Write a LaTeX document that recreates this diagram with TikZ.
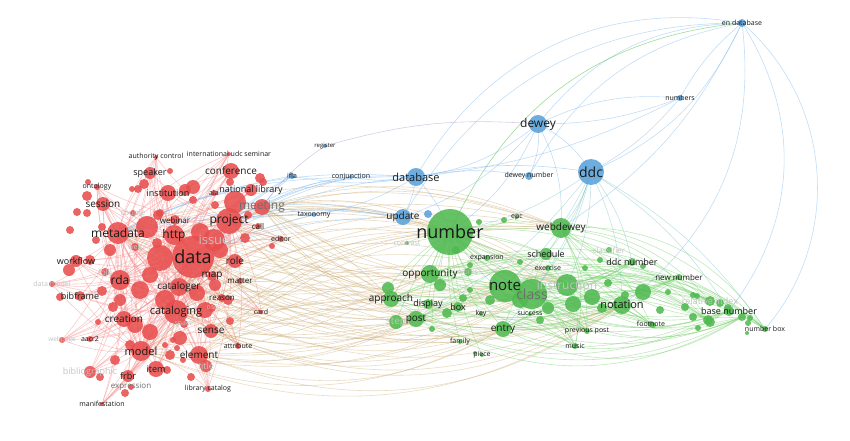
\documentclass[tikz,border=0pt]{standalone}
\usepackage{fontspec}
\setmainfont{Open Sans}
\definecolor{redcol}{RGB}{232,78,78}
\definecolor{greencol}{RGB}{80,185,80}
\definecolor{bluecol}{RGB}{90,162,218}
\definecolor{rededge}{RGB}{245,135,135}
\definecolor{greenedge}{RGB}{115,205,105}
\definecolor{blueedge}{RGB}{120,180,235}
\definecolor{mixedge}{RGB}{200,165,105}
\definecolor{tealedge}{RGB}{120,195,195}
\definecolor{purpedge}{RGB}{170,140,200}
\definecolor{labcol}{RGB}{25,25,25}
\definecolor{midcol}{RGB}{110,110,110}
\definecolor{fadecol}{RGB}{195,195,195}
\pgfdeclarelayer{edges}
\pgfsetlayers{edges,main}
\tikzset{
  vnode/.style={circle, inner sep=0pt, fill opacity=0.88},
  rednode/.style={vnode, fill=redcol},
  greennode/.style={vnode, fill=greencol},
  bluenode/.style={vnode, fill=bluecol},
  lab/.style={inner sep=0pt, text=labcol},
  edge/.style={line width=0.6pt, draw opacity=0.45},
  redline/.style={edge, draw=rededge},
  greenline/.style={edge, draw=greenedge},
  blueline/.style={edge, draw=blueedge},
  mixline/.style={edge, draw=mixedge, draw opacity=0.4},
  tealline/.style={edge, draw=tealedge},
}
\begin{document}
\begin{tikzpicture}[x=1pt, y=-1pt]
    \useasboundingbox (0,0) rectangle (850,441);

    % Red cluster
    \foreach \nm/\x/\y/\rad in {data/193/257/21, metadata/118/233/11, http/174/235/10,
        project/229/221/13, issue/214/240/11, conference/231/171/8, natlib/251/190/6,
        meeting/262/207/8, call/258/226/3, editor/281/239/3, ala/214/193/3, role/235/261/7,
        map/212/276/5, matter/240/281/3, rda/120/280/10, cataloger/179/287/9, reason/222/298/4,
        cataloging/176/312/12, card/261/312/2, sense/211/331/7, creation/124/319/8,
        model/141/351/10, element/199/355/9, attribute/238/346/3, item/156/369/8,
        frbr/128/376/6, expression/131/387/3, manifestation/102/404/2, libcat/208/389/3,
        aacr2/90/339/3, bibframe/80/296/5, workflow/76/261/6, session/103/204/7,
        ontology/97/187/3, speaker/150/173/6, institution/168/193/8, webinar/175/220/5,
        authctrl/156/157/2, udcsem/229/154/2, couple/133/213/3, folk/105/272/4,
        datamodel/52/284/3, webpage/62/340/3, bibliographic/90/372/6, title/206/366/6,
        space/184/324/4, osc/212/308/4, web/135/247/4}
        \node[rednode, minimum size=\rad*2pt] (\nm) at (\x,\y) {};
    \foreach \x/\y/\rad [count=\i] in {147/227/11, 160/258/13, 69/270/6, 135/325/8,
        197/293/8, 235/202/11, 193/187/7, 185/190/6, 193/200/4, 160/213/4, 230/182/4,
        260/178/5, 263/182/4, 170/171/3, 87/196/5, 88/182/3, 77/212/4, 87/213/4, 132/189/3,
        138/189/4, 144/184/5, 102/227/4, 158/215/5, 157/243/5, 60/297/4, 102/291/5,
        113/307/5, 98/322/3, 100/377/4, 125/393/4, 165/345/3, 173/340/3, 177/348/3,
        183/360/3, 167/370/4, 191/377/4, 230/321/4, 248/215/4, 272/246/3, 215/205/4,
        140/290/9, 165/300/10, 205/310/8, 150/332/8, 180/338/7, 220/250/8, 200/232/9,
        120/300/6, 110/250/6, 90/260/5, 150/275/8, 215/285/6, 245/238/5, 130/345/5,
        115/360/5, 170/355/5, 96/240/4, 228/300/5, 70/230/4}
        \node[rednode, minimum size=\rad*2pt] (r\i) at (\x,\y) {};

    % Green cluster
    \foreach \nm/\x/\y/\rad in {number/450/232/23, note/505/286/16, class/532/294/15,
        instruction/567/285/11, webdewey/561/228/10, schedule/546/254/6, exercise/548/268/3,
        ddcnumber/632/262/4, classifier/609/250/3, newnumber/679/277/3, notation/622/305/9,
        footnote/651/324/3, prevpost/587/331/3, music/575/346/3, basenumber/729/311/5,
        relindex/710/301/5, numberbox/765/329/3, opportunity/430/274/9, works/468/272/4,
        expansion/487/258/3, epc/517/217/2, approach/391/299/8, display/428/304/5,
        box/458/307/5, key/481/314/2, success/530/314/2, post/416/319/8, step/396/322/7,
        entry/503/329/8, family/460/342/2, piece/482/355/2, contrast/407/243/2}
        \node[greennode, minimum size=\rad*2pt] (\nm) at (\x,\y) {};
    \foreach \x/\y/\rad [count=\i] in {479/222/3, 504/220/3, 440/285/6, 463/298/4,
        447/313/5, 388/288/6, 432/329/3, 475/353/2, 592/297/8, 573/304/8, 602/308/5,
        643/292/8, 668/292/3, 608/283/4, 625/295/4, 643/266/3, 653/325/3, 685/307/4,
        693/295/3, 720/303/4, 728/308/4, 710/322/5, 698/328/3, 742/317/4, 750/318/3,
        748/323/3, 747/333/2, 697/296/3, 693/317/4, 708/320/5, 520/300/8, 548/308/6,
        490/300/5, 456/250/4, 470/265/3, 520/262/3, 585/268/3, 600/260/3, 660/310/4,
        470/290/3, 540/320/4}
        \node[greennode, minimum size=\rad*2pt] (g\i) at (\x,\y) {};

    % Blue cluster
    \foreach \nm/\x/\y/\rad in {endb/742/23/4, numbers/680/98/3, dewey/538/124/9,
        ddc/591/172/13, deweynum/529/176/4, database/416/177/9, update/403/217/8,
        ifla/292/176/3, conjunction/351/177/2, register/325/146/2, taxonomy/314/215/2,
        b1/428/214/4}
        \node[bluenode, minimum size=\rad*2pt] (\nm) at (\x,\y) {};

    % Labels
    \foreach \nm/\txt/\sz in {data/data/18, metadata/metadata/12, http/http/12,
        project/project/12, conference/conference/10, natlib/national library/9,
        call/call/8, editor/editor/7, ala/ala/7, role/role/10, map/map/10, matter/matter/8,
        rda/rda/12, cataloger/cataloger/10, reason/reason/8, cataloging/cataloging/11,
        card/card/7, sense/sense/10, creation/creation/10, model/model/11,
        element/element/10, attribute/attribute/7, item/item/9, frbr/frbr/9,
        manifestation/manifestation/7, libcat/library catalog/7, aacr2/aacr2/7,
        bibframe/bibframe/9, workflow/workflow/9, session/session/10, ontology/ontology/7,
        speaker/speaker/9, institution/institution/9, webinar/webinar/8,
        authctrl/authority control/7, udcsem/international udc seminar/7,
        number/number/18, note/note/15, webdewey/webdewey/10, schedule/schedule/9,
        exercise/exercise/7, ddcnumber/ddc number/9, newnumber/new number/8,
        notation/notation/11, footnote/footnote/7, prevpost/previous post/7, music/music/7,
        basenumber/base number/9, numberbox/number box/7, opportunity/opportunity/10,
        expansion/expansion/7, epc/epc/7, approach/approach/10, display/display/9,
        box/box/9, key/key/7, success/success/7, post/post/10, entry/entry/10,
        family/family/7, piece/piece/7, endb/en database/7, numbers/numbers/7,
        dewey/dewey/12, ddc/ddc/14, deweynum/dewey number/7, database/database/11,
        update/update/10, ifla/ifla/7, conjunction/conjunction/7, register/register/6,
        taxonomy/taxonomy/7}
        \node[lab, font=\fontsize{\sz}{\sz}\selectfont] at (\nm) {\txt};
    \foreach \nm/\txt/\sz in {meeting/meeting/12, class/class/14, expression/expression/8}
        \node[lab, text=midcol, font=\fontsize{\sz}{\sz}\selectfont] at (\nm) {\txt};
    \foreach \nm/\txt/\sz in {issue/issue/13, couple/couple/8, folk/folk/8,
        datamodel/data model/7, webpage/webpage/6.5, bibliographic/bibliographic/9,
        title/title/9, space/space/7, osc/osc/7, web/web/7, instruction/instruction/12,
        classifier/classifier/8, relindex/relative index/9, works/works/7, step/step/10,
        contrast/contrast/7}
        \node[lab, text=fadecol, font=\fontsize{\sz}{\sz}\selectfont] at (\nm) {\txt};

    \begin{pgfonlayer}{edges}
    % Links inside the red cluster
    \foreach \a in {data,metadata,cataloging,project,rda,model,http,cataloger}
        \foreach \b in {session,workflow,bibframe,aacr2,manifestation,frbr,item,element,
            creation,sense,attribute,libcat,role,map,reason,card,editor,call,meeting,
            natlib,conference,speaker,institution,ontology,authctrl,udcsem,bibliographic,
            webpage,datamodel,data,metadata,cataloging}
            \draw[redline] (\a.center) to[bend left=12] (\b.center);

    % Links red to green
    \foreach \a in {data,cataloging,project,metadata,cataloger,element,http,meeting,sense,model}
        \foreach \b/\bd in {number/18,note/-14,class/-20,approach/10,opportunity/-8,
            post/-18,entry/-25,notation/-28,webdewey/20,instruction/22}
            \draw[mixline] (\a.center) to[bend left=\bd] (\b.center);
    \foreach \a in {data,project,metadata,meeting}
        \foreach \b/\bd in {database/15,update/10,ifla/8,taxonomy/5,conjunction/12}
            \draw[blueline] (\a.center) to[bend left=\bd] (\b.center);
    \draw[edge, draw=purpedge] (meeting.center) to[bend left=10] (register.center);
    \draw[edge, draw=purpedge] (register.center) to[bend left=10] (dewey.center);

    % Links inside the green cluster
    \foreach \a in {number,note,class,instruction,webdewey,approach,post,entry,opportunity}
        \foreach \b/\bd in {notation/-15,basenumber/-25,numberbox/30,newnumber/-20,
            ddcnumber/-15,relindex/22,footnote/18,prevpost/15,schedule/10,music/20,
            g24/-30,g30/25}
            \draw[greenline] (\a.center) to[bend left=\bd] (\b.center);
    \foreach \b in {approach,post,display,box,key,step,contrast,expansion,epc,family,
        piece,entry,works,opportunity,note,class,success,g3,g6,g7}
        \draw[greenline] (number.center) to[bend right=10] (\b.center);

    % Links of the blue cluster
    \foreach \b/\bd in {ddc/-20,dewey/25,numbers/10,database/35,update/30,
        webdewey/-15,deweynum/25,notation/-30,basenumber/-35,numberbox/-45}
        \draw[blueline] (endb.center) to[bend right=\bd] (\b.center);
    \draw[greenline, draw opacity=0.7] (endb.center) to[bend right=30] (number.center);
    \foreach \b in {ddc,database,numbers,deweynum,number,update,webdewey}
        \draw[blueline] (dewey.center) to[bend left=15] (\b.center);
    \foreach \b in {number,webdewey,note,class,schedule,notation,ddcnumber,instruction,
        basenumber,numberbox,entry,post}
        \draw[tealline] (ddc.center) to[bend left=12] (\b.center);
    \foreach \b in {ddc,dewey,database}
        \draw[blueline] (numbers.center) to[bend left=10] (\b.center);
    \foreach \b in {number,update,ifla,conjunction,taxonomy,ddc,deweynum}
        \draw[blueline] (database.center) to[bend left=10] (\b.center);
    \end{pgfonlayer}

\end{tikzpicture}
\end{document}
